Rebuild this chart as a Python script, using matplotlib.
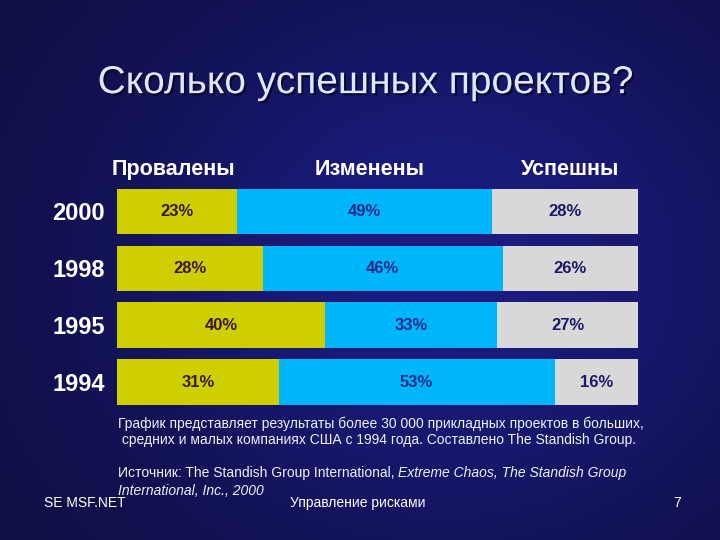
import numpy as np
import matplotlib
matplotlib.use("Agg")
import matplotlib.pyplot as plt
import matplotlib.patheffects as pe
from matplotlib import font_manager as fm

plt.rcParams['font.family'] = ['Liberation Sans', 'DejaVu Sans']

# узкий шрифт, если есть
names = {f.name for f in fm.fontManager.ttflist}
narrow = 'Liberation Sans Narrow' if 'Liberation Sans Narrow' in names else 'Liberation Sans'

# данные
years = ['2000', '1998', '1995', '1994']
failed = [23, 28, 40, 31]
changed = [49, 46, 33, 53]
success = [28, 26, 27, 16]
headers = ['Провалены', 'Изменены', 'Успешны']

colors = ['#cfcf00', '#00b6fa', '#d8d8d8']
text_colors = ['#3a1832', '#1c2a8a', '#1a1a66']

fig = plt.figure(figsize=(7.2, 5.4), dpi=100)

# фон - тёмно-синий градиент
bg = fig.add_axes([0, 0, 1, 1])
yy, xx = np.mgrid[0:1:270j, 0:1:360j]
grad = 0.5 + 0.5 * np.exp(-((xx - 0.62) ** 2 / 0.22 + (yy - 0.5) ** 2 / 0.3))
base = np.array([0x1c, 0x1c, 0x82]) / 255.0
img = grad[..., None] * base[None, None, :]
bg.imshow(img, aspect='auto', extent=[0, 1, 0, 1], origin='lower')
bg.set_xlim(0, 1)
bg.set_ylim(0, 1)
bg.axis('off')

# заголовок
fig.text(0.508, 0.846, 'Сколько успешных проектов?', ha='center', va='center',
         fontsize=28, color='#dfe8ff',
         path_effects=[pe.withSimplePatchShadow(offset=(1.5, -1.5), shadow_rgbFace='#050520', alpha=0.8)])

# график
ax = fig.add_axes([0.1625, 0.2398, 0.7236, 0.4222])
ax.patch.set_alpha(0)
y = np.arange(len(years))
series = [failed, changed, success]
left = np.zeros(len(years))
for vals, c, tc in zip(series, colors, text_colors):
    vals = np.array(vals, dtype=float)
    ax.barh(y, vals, left=left, height=0.79, color=c, edgecolor='none')
    for yi, l, v in zip(y, left, vals):
        ax.text(l + v / 2, yi, f'{int(v)}%', ha='center', va='center',
                fontsize=12, fontweight='bold', color=tc, family=narrow)
    left += vals
ax.set_xlim(0, 100)
ax.set_ylim(len(years) - 0.5, -0.5)
ax.set_yticks(y)
ax.set_yticklabels(years)
ax.tick_params(axis='y', length=0, pad=9, labelsize=17, labelcolor='white')
for lab in ax.get_yticklabels():
    lab.set_fontweight('bold')
    lab.set_family(narrow)
ax.set_xticks([])
for s in ax.spines.values():
    s.set_visible(False)

# заголовки столбцов
hx = [0.241, 0.514, 0.792]
for h, x in zip(headers, hx):
    fig.text(x, 0.686, h, ha='center', va='center', fontsize=15.5,
             fontweight='bold', color='white')

# подписи
note_color = '#f0f0f8'
fs = 10
fig.text(0.164, 0.215, 'График представляет результаты более 30 000 прикладных проектов в больших,',
         fontsize=fs, color=note_color, va='center')
fig.text(0.164, 0.185, ' средних и малых компаниях США с 1994 года. Составлено The Standish Group.',
         fontsize=fs, color=note_color, va='center')

t1 = fig.text(0.164, 0.124, 'Источник: The Standish Group International, ',
              fontsize=fs, color=note_color, va='center')
fig.canvas.draw()
r = fig.canvas.get_renderer()
bb = t1.get_window_extent(renderer=r)
fig.text(bb.x1 / fig.bbox.width, 0.124, 'Extreme Chaos, The Standish Group',
         fontsize=fs, color=note_color, va='center', style='italic')
fig.text(0.164, 0.091, 'International, Inc., 2000',
         fontsize=fs, color=note_color, va='center', style='italic')

# нижний колонтитул
fig.text(0.061, 0.068, 'SE MSF.NET', fontsize=10, color='white', va='center')
fig.text(0.497, 0.068, 'Управление рисками', fontsize=10, color='white',
         va='center', ha='center')
fig.text(0.935, 0.068, '7', fontsize=10, color='white', va='center')

fig.savefig('out.png', dpi=100)
